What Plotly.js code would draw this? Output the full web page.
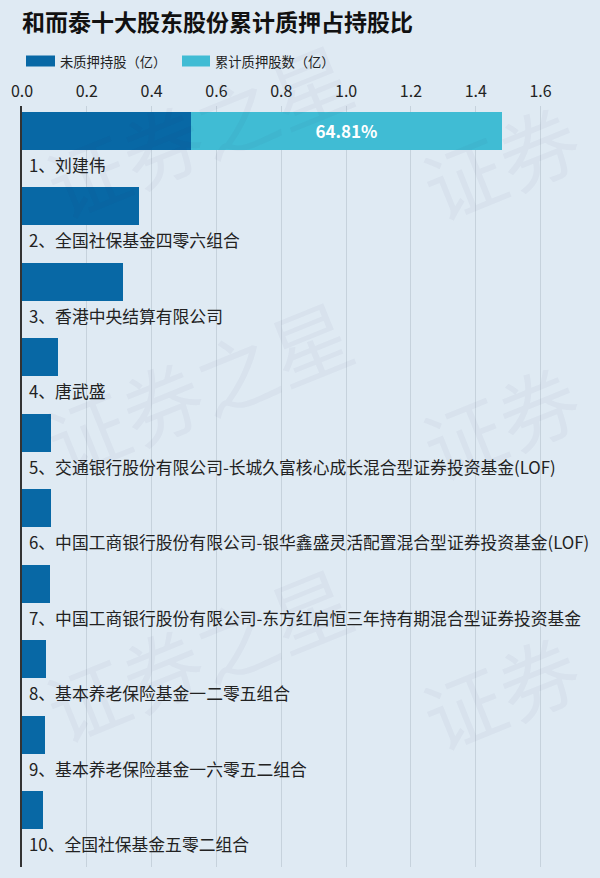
<!DOCTYPE html>
<html>
<head>
<meta charset="utf-8">
<script src="https://cdn.plot.ly/plotly-3.0.1.min.js"></script>
<style>html,body{margin:0;padding:0;background:#dfeaf3;}</style>
</head>
<body>
<div id="chart" style="width:600px;height:878px;"></div>
<script>
const titleText = '和而泰十大股东股份累计质押占持股比';
const categories = [
  '1、刘建伟',
  '2、全国社保基金四零六组合',
  '3、香港中央结算有限公司',
  '4、唐武盛',
  '5、交通银行股份有限公司-长城久富核心成长混合型证券投资基金(LOF)',
  '6、中国工商银行股份有限公司-银华鑫盛灵活配置混合型证券投资基金(LOF)',
  '7、中国工商银行股份有限公司-东方红启恒三年持有期混合型证券投资基金',
  '8、基本养老保险基金一二零五组合',
  '9、基本养老保险基金一六零五二组合',
  '10、全国社保基金五零二组合'
];
const unpledged = [0.521, 0.361, 0.312, 0.111, 0.089, 0.089, 0.086, 0.073, 0.071, 0.065];
const pledged   = [0.960, 0, 0, 0, 0, 0, 0, 0, 0, 0];
const pledgeRatioLabels = ['64.81%', '', '', '', '', '', '', '', '', ''];
const seriesNames = ['未质押持股（亿）', '累计质押股数（亿）'];
const tickVals = [0, 0.2, 0.4, 0.6, 0.8, 1.0, 1.2, 1.4, 1.6];

const FONT = '"Noto Sans CJK SC", "Noto Sans", sans-serif';
const COLORS = ['#0868a5', '#40bcd4'];
const BG = '#dfeaf3';

// plot-area geometry (pixels) used for converting decoration positions
const W = 600, H = 878, ML = 22, MR = 27, MT = 106, MB = 11;
const PW = W - ML - MR, PH = H - MT - MB;
const px = v => (v - ML) / PW;
const py = v => 1 - (v - MT) / PH;

const traces = [
  {
    type: 'bar', orientation: 'h', name: seriesNames[0],
    x: unpledged, y: categories, width: 0.5,
    marker: {color: COLORS[0]}, hoverinfo: 'x+y'
  },
  {
    type: 'bar', orientation: 'h', name: seriesNames[1],
    x: pledged, y: categories, width: 0.5,
    marker: {color: COLORS[1]},
    text: pledgeRatioLabels, textposition: 'inside', insidetextanchor: 'middle',
    textfont: {color: '#ffffff', size: 17, family: FONT, weight: 'bold'},
    constraintext: 'none', hoverinfo: 'x+y'
  }
];

const annotations = categories.map(c => ({
  xref: 'x', yref: 'y', x: 0, y: c, xanchor: 'left', yanchor: 'middle',
  xshift: 5, yshift: -34, text: c, showarrow: false,
  font: {family: FONT, size: 16.8, color: '#222222'}
}));

// faint watermark
const wm = [[198,128],[198,385],[198,652],[500,160],[500,420],[500,690]];
wm.forEach((p, i) => annotations.push({
  xref: 'paper', yref: 'paper', showarrow: false, text: i < 3 ? '证券之星' : '证券',
  x: px(p[0]), y: py(p[1]), xanchor: 'center', yanchor: 'middle',
  textangle: -22, font: {family: FONT, size: 80, color: 'rgba(40,60,90,0.04)'}
}));

// custom legend (wide swatches like the reference)
const legendItems = [
  {sx0: 26, sx1: 55, tx: 58},
  {sx0: 182, sx1: 210, tx: 213}
];
const shapes = [];
legendItems.forEach((it, i) => {
  shapes.push({
    type: 'rect', xref: 'paper', yref: 'paper',
    x0: px(it.sx0), x1: px(it.sx1), y0: py(55.5), y1: py(66.5),
    fillcolor: COLORS[i], line: {width: 0}
  });
  annotations.push({
    xref: 'paper', yref: 'paper', x: px(it.tx), y: py(61), xanchor: 'left', yanchor: 'middle',
    text: seriesNames[i], showarrow: false,
    font: {family: FONT, size: 13.3, color: '#222222'}
  });
});

const layout = {
  width: W, height: H,
  paper_bgcolor: BG, plot_bgcolor: BG,
  margin: {l: ML, r: MR, t: MT, b: MB},
  barmode: 'stack',
  showlegend: false,
  title: {
    text: titleText, x: 22/600, xanchor: 'left', xref: 'container',
    y: 1 - 23/878, yanchor: 'middle', yref: 'container',
    font: {family: FONT, size: 23, color: '#111111', weight: 'bold'}
  },
  xaxis: {
    side: 'top', range: [0, 1.7], tickvals: tickVals, tickformat: '.1f',
    showgrid: true, gridcolor: '#c6d2dc', gridwidth: 1, zeroline: false,
    showline: false, ticks: '', ticklabelstandoff: 5,
    tickfont: {family: FONT, size: 16, color: '#222222'}, fixedrange: true
  },
  yaxis: {
    type: 'category', range: [9.75, -0.326], showticklabels: false,
    showgrid: false, zeroline: false, showline: true, linecolor: '#333333', linewidth: 2,
    ticks: '', fixedrange: true
  },
  shapes: shapes,
  annotations: annotations
};

Plotly.newPlot('chart', traces, layout, {displayModeBar: false, staticPlot: true});
</script>
</body>
</html>
